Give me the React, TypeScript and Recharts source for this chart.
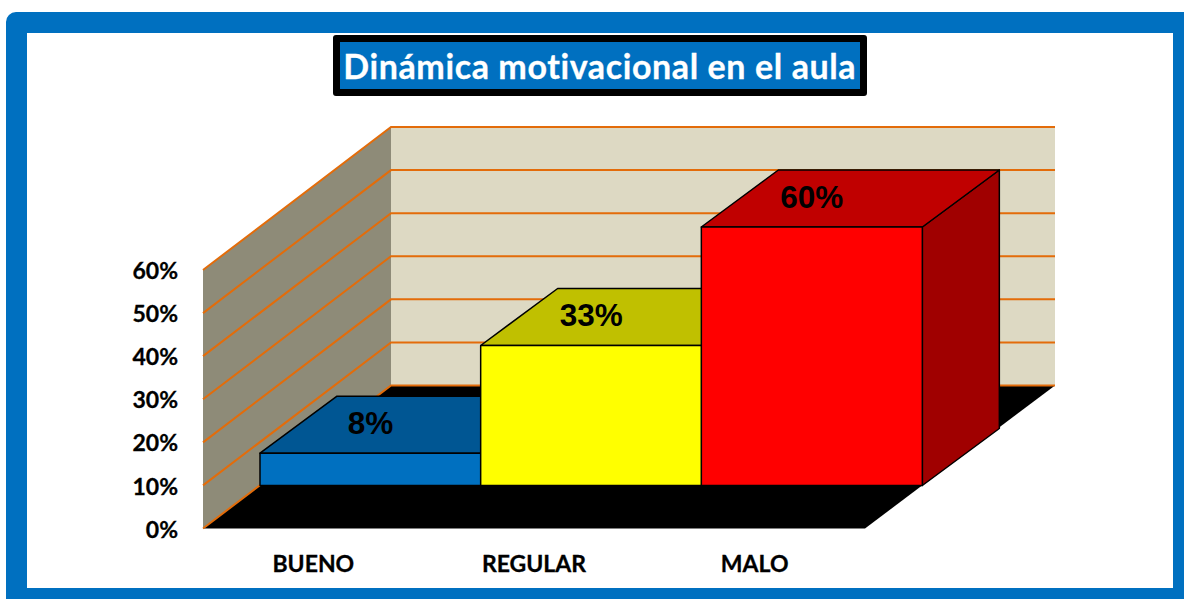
import { BarChart, Bar, XAxis, YAxis, CartesianGrid, LabelList } from 'recharts';

const categories = ['BUENO', 'REGULAR', 'MALO'];
const percentages = [7.5, 32.5, 60];
const yTicks = [0, 10, 20, 30, 40, 50, 60];

const FRONT_COLORS = ['#0070C0', '#FFFF00', '#FF0000'];
const TOP_COLORS = ['#005693', '#C0C000', '#C00000'];
const SIDE_COLORS = ['#00487A', '#A0A000', '#A00000'];

const ORANGE = '#E36C0A';
// offset of the bars from the front of the floor, and their depth
const BAR_SHIFT_X = 57;
const BAR_SHIFT_Y = 43;
const BAR_DEPTH_X = 77;
const BAR_DEPTH_Y = 57;
const WALL_DEPTH_X = 188;
const WALL_DEPTH_Y = 143;

const chartData = categories.map((name, i) => ({ name, value: percentages[i] }));

// grid lines run along the side wall and then the back wall; walls and floor come with the first line
function WallLine(props: any) {
  const { x1, x2, y1, index } = props;
  const backX = x1 + WALL_DEPTH_X;
  const backRight = x2 + WALL_DEPTH_X + 2;
  const backY = y1 - WALL_DEPTH_Y;
  const bottom = props.offset ? props.offset.top + props.offset.height : 528.5;
  const top = props.offset ? props.offset.top : 270;
  return (
    <g key={`line-${index}`}>
      {index === 0 && (
        <g>
          <polygon
            points={`${backX},${top - WALL_DEPTH_Y} ${backRight},${top - WALL_DEPTH_Y} ${backRight},${bottom - WALL_DEPTH_Y} ${backX},${bottom - WALL_DEPTH_Y}`}
            fill="#DDD9C3"
          />
          <polygon
            points={`${x1},${top} ${backX},${top - WALL_DEPTH_Y} ${backX},${bottom - WALL_DEPTH_Y} ${x1},${bottom}`}
            fill="#8E8B78"
          />
          <polygon
            points={`${x1},${bottom} ${x2},${bottom} ${backRight},${bottom - WALL_DEPTH_Y} ${backX},${bottom - WALL_DEPTH_Y}`}
            fill="#000000"
          />
          <line x1={x1} y1={bottom} x2={x2} y2={bottom} stroke="#808080" strokeWidth={1} />
        </g>
      )}
      <polyline
        points={`${x1},${y1} ${backX},${backY} ${backRight},${backY}`}
        fill="none"
        stroke={ORANGE}
        strokeWidth={2}
      />
    </g>
  );
}

function Box3D(props: any) {
  const { x, y, width, height, index } = props;
  const left = x + BAR_SHIFT_X;
  const right = left + width;
  const topY = y - BAR_SHIFT_Y;
  const baseY = topY + height;
  const dx = BAR_DEPTH_X;
  const dy = BAR_DEPTH_Y;
  return (
    <g stroke="#000000" strokeWidth={1.5} strokeLinejoin="round">
      <polygon
        points={`${right},${topY} ${right + dx},${topY - dy} ${right + dx},${baseY - dy} ${right},${baseY}`}
        fill={SIDE_COLORS[index]}
      />
      <polygon
        points={`${left},${topY} ${left + dx},${topY - dy} ${right + dx},${topY - dy} ${right},${topY}`}
        fill={TOP_COLORS[index]}
      />
      <rect x={left} y={topY} width={width} height={height} fill={FRONT_COLORS[index]} />
    </g>
  );
}

function TopLabel(props: any) {
  const { x, y, width, value } = props;
  return (
    <text
      x={x + width / 2 + BAR_SHIFT_X}
      y={y - BAR_SHIFT_Y - 30}
      textAnchor="middle"
      dominantBaseline="central"
      fontFamily="'Liberation Sans', Arial, sans-serif"
      fontWeight={700}
      fontSize={31.5}
      fill="#000000"
    >
      {Math.round(value)}%
    </text>
  );
}

const tickStyle = {
  fontFamily: 'Lato, sans-serif',
  fontWeight: 700,
  fontSize: 23,
  fill: '#000000',
  stroke: '#000000',
  strokeWidth: 0.3,
  dy: 1,
};

export default function App() {
  return (
    <div style={{ position: 'absolute', left: 0, top: 0, width: 1184, height: 599, overflow: 'hidden', background: '#fff' }}>
      <div
        style={{
          position: 'absolute',
          left: 6,
          top: 11.5,
          width: 1178,
          height: 587.5,
          boxSizing: 'border-box',
          borderStyle: 'solid',
          borderColor: '#0070C0',
          borderWidth: '21.5px 11px 11.5px 21px',
          borderRadius: '10px 0 0 0',
        }}
      />
      <div
        style={{
          position: 'absolute',
          left: 332.5,
          top: 35,
          width: 534.5,
          height: 60.5,
          boxSizing: 'border-box',
          border: '7px solid #000',
          borderRadius: 3,
          background: '#0070C0',
          color: '#fff',
          fontFamily: 'Lato, sans-serif',
          fontWeight: 700,
          fontSize: 34,
          letterSpacing: 0.6,
          WebkitTextStroke: '0.3px #fff',
          lineHeight: '48px',
          textAlign: 'center',
          whiteSpace: 'nowrap',
        }}
      >
        Dinámica motivacional en el aula
      </div>
      <div style={{ position: 'absolute', left: 0, top: 0 }}>
        <BarChart
          width={1184}
          height={599}
          data={chartData}
          barCategoryGap={0}
          margin={{ top: 270, right: 319, bottom: 30.5, left: 133 }}
        >
          <CartesianGrid vertical={false} horizontal={WallLine} />
          <XAxis dataKey="name" axisLine={false} tickLine={false} height={40} tickMargin={20} tick={tickStyle} interval={0} />
          <YAxis
            domain={[0, 60]}
            ticks={yTicks}
            width={70}
            axisLine={false}
            tickLine={false}
            tickMargin={25}
            tickSize={0}
            tick={tickStyle}
            tickFormatter={(v: number) => `${v}%`}
            interval={0}
          />
          <Bar dataKey="value" shape={Box3D} isAnimationActive={false}>
            <LabelList dataKey="value" content={TopLabel} />
          </Bar>
        </BarChart>
      </div>
    </div>
  );
}
